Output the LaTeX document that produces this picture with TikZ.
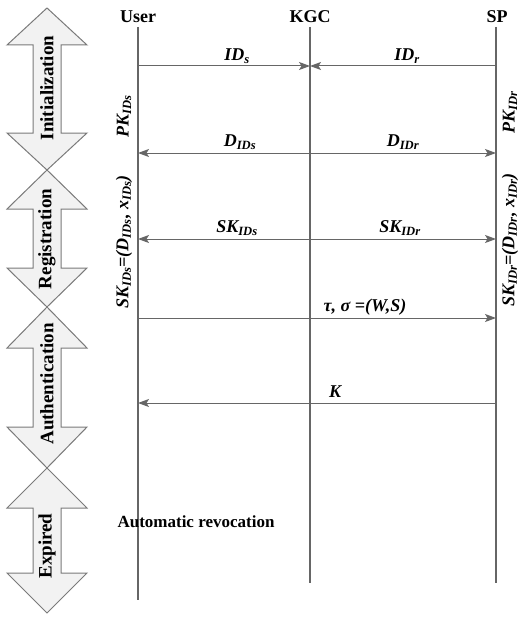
\documentclass[tikz,border=0pt]{standalone}
\usepackage{fontspec}
\setmainfont{Liberation Serif}
\usetikzlibrary{arrows.meta}
\definecolor{linegray}{HTML}{666666}
\definecolor{arrowfill}{HTML}{F2F2F2}
\definecolor{arrowgray}{HTML}{7A7A7A}
\newcommand\phasearrow[3]{% top, bottom, head length
  \draw[phase] (47,#1) -- (87,#1+#3) -- (61,#1+#3) -- (61,#2-#3) -- (87,#2-#3)
    -- (47,#2) -- (7,#2-#3) -- (33,#2-#3) -- (33,#1+#3) -- (7,#1+#3) -- cycle;}
\tikzset{
  hdr/.style={font=\fontsize{18}{20}\selectfont\bfseries, inner sep=1pt},
  life/.style={draw=linegray, line width=1.2pt},
  tip/.tip={Stealth[length=11pt,width=8pt,inset=2.5pt]},
  msg/.style={draw=linegray, line width=1pt, -tip},
  dmsg/.style={draw=linegray, line width=1pt, tip-tip},
  lbl/.style={font=\fontsize{18}{20}\selectfont\bfseries\itshape, inner sep=0pt},
  vlbl/.style={lbl, rotate=90},
  phase/.style={fill=arrowfill, draw=arrowgray, line width=1pt},
  phtxt/.style={font=\fontsize{19}{21}\selectfont\bfseries, rotate=90, inner sep=0pt},
  note/.style={font=\fontsize{17}{19}\selectfont\bfseries, inner sep=0pt}
}
\begin{document}
\begin{tikzpicture}[x=1pt,y=-1pt]
\useasboundingbox (0,0) rectangle (522,618);
% phase arrows
\phasearrow{8}{170}{37}
\phasearrow{170}{307}{39}
\phasearrow{307}{468}{41}
\phasearrow{468}{613}{40}
\node[phtxt] (tinit) at (47,88) {Initialization};
\node[phtxt] (treg) at (47,239) {Registration};
\node[phtxt] (tauth) at (47,384) {Authentication};
\node[phtxt] (texp) at (47,546) {Expired};
% headers
\node[hdr] (user) at (138,17) {User};
\node[hdr] (kgc) at (310,17) {KGC};
\node[hdr] (sp) at (497,17) {SP};
\coordinate (uEnd) at (138,600);
\coordinate (kEnd) at (310,583);
\coordinate (sEnd) at (496,583);
\draw[life] (138,27) -- (uEnd);
\draw[life] (310,27) -- (kEnd);
\draw[life] (496,27) -- (sEnd);
% message coordinates
\foreach \n/\y in {1/66,2/153,3/239,4/318,5/403}{
  \coordinate (u\n) at (138,\y);
  \coordinate (k\n) at (310,\y);
  \coordinate (s\n) at (496,\y);
}
\draw[msg] (u1) -- (k1);
\draw[msg] (s1) -- (k1);
\draw[dmsg] (u2) -- (s2);
\draw[dmsg] (u3) -- (s3);
\draw[msg] (u4) -- (s4);
\draw[msg] (s5) -- (u5);
% labels
\node[lbl] (lids) at (237,56) {ID\textsubscript{s}};
\node[lbl] (lidr) at (407,56) {ID\textsubscript{r}};
\node[lbl] (ldids) at (240,142) {D\textsubscript{IDs}};
\node[lbl] (ldidr) at (403,142) {D\textsubscript{IDr}};
\node[lbl] (lskids) at (237,228) {SK\textsubscript{IDs}};
\node[lbl] (lskidr) at (400,228) {SK\textsubscript{IDr}};
\node[lbl] (lsig) at (365,307) {τ, σ =(W,S)};
\node[lbl] (lk) at (335,392) {K};
\node[vlbl] (pks) at (124,116) {PK\textsubscript{IDs}};
\node[vlbl] (pkr) at (510,112) {PK\textsubscript{IDr}};
\node[vlbl] (sks) at (124,242) {SK\textsubscript{IDs}=(D\textsubscript{IDs}, x\textsubscript{IDs})};
\node[vlbl] (skr) at (510,240) {SK\textsubscript{IDr}=(D\textsubscript{IDr}, x\textsubscript{IDr})};
\node[note] (rev) at (196,522) {Automatic revocation};
\end{tikzpicture}
\end{document}
